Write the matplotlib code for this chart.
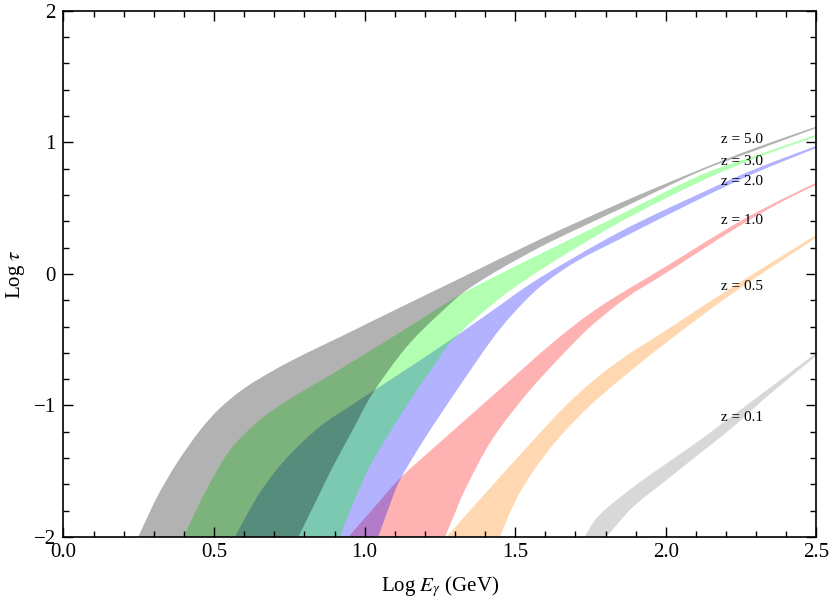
import matplotlib.pyplot as plt
from matplotlib.path import Path
from matplotlib.patches import PathPatch
from matplotlib.ticker import MultipleLocator

plt.rcParams['font.family'] = ['Liberation Serif', 'DejaVu Serif']
plt.rcParams['mathtext.fontset'] = 'stix'

# band edges (Log E, Log tau); "hi" = left/upper edge, "lo" = right/lower edge
z01_hi_x = [1.73, 1.781, 1.892, 2.003, 2.113, 2.224, 2.335, 2.52]
z01_hi_y = [-2.0, -1.83, -1.62, -1.44, -1.264, -1.074, -0.884, -0.565]
z01_lo_x = [1.803, 1.892, 2.003, 2.113, 2.224, 2.335, 2.52]
z01_lo_y = [-2.0, -1.77, -1.567, -1.365, -1.163, -0.935, -0.585]

z05_hi_x = [1.272, 1.40, 1.55, 1.66, 1.76, 1.87, 2.0, 2.224, 2.52]
z05_hi_y = [-2.0, -1.67, -1.29, -1.02, -0.81, -0.62, -0.43, -0.095, 0.325]
z05_lo_x = [1.449, 1.50, 1.56, 1.64, 1.74, 1.85, 2.003, 2.224, 2.52]
z05_lo_y = [-2.0, -1.73, -1.50, -1.26, -1.02, -0.80, -0.52, -0.145, 0.305]

z1_hi_x = [0.946, 1.03, 1.117, 1.258, 1.443, 1.626, 1.781, 2.003, 2.224, 2.379, 2.52]
z1_hi_y = [-2.0, -1.78, -1.555, -1.264, -0.89, -0.52, -0.25, 0.06, 0.37, 0.56, 0.715]
z1_lo_x = [1.267, 1.30, 1.333, 1.422, 1.549, 1.703, 1.781, 1.88, 2.003, 2.224, 2.379, 2.52]
z1_lo_y = [-2.0, -1.82, -1.643, -1.264, -0.884, -0.505, -0.34, -0.165, 0.01, 0.335, 0.54, 0.70]

z2_hi_x = [0.569, 0.65, 0.741, 0.852, 0.962, 1.029, 1.139, 1.283, 1.43, 1.582, 1.848, 2.113, 2.30, 2.52]
z2_hi_y = [-2.0, -1.67, -1.40, -1.16, -0.99, -0.89, -0.725, -0.505, -0.27, -0.03, 0.32, 0.61, 0.80, 0.99]
z2_lo_x = [1.045, 1.08, 1.117, 1.20, 1.30, 1.416, 1.49, 1.582, 1.70, 1.848, 2.113, 2.30, 2.52]
z2_lo_y = [-2.0, -1.78, -1.567, -1.25, -0.905, -0.52, -0.31, -0.10, 0.09, 0.265, 0.57, 0.77, 0.975]

z3_hi_x = [0.398, 0.475, 0.553, 0.652, 0.763, 0.907, 1.05, 1.184, 1.316, 1.45, 1.582, 1.848, 2.11, 2.30, 2.52]
z3_hi_y = [-2.0, -1.64, -1.34, -1.11, -0.935, -0.74, -0.54, -0.35, -0.16, 0.0, 0.15, 0.45, 0.745, 0.90, 1.075]
z3_lo_x = [0.918, 0.962, 1.018, 1.085, 1.16, 1.23, 1.294, 1.43, 1.582, 1.848, 2.113, 2.30, 2.52]
z3_lo_y = [-2.0, -1.744, -1.46, -1.20, -0.93, -0.70, -0.50, -0.22, 0.027, 0.393, 0.70, 0.88, 1.06]

z5_hi_x = [0.248, 0.31, 0.376, 0.453, 0.52, 0.60, 0.70, 0.80, 0.918, 1.10, 1.316, 1.58, 1.85, 2.11, 2.30, 2.52]
z5_hi_y = [-2.0, -1.70, -1.44, -1.19, -1.02, -0.87, -0.73, -0.61, -0.48, -0.275, -0.035, 0.26, 0.54, 0.79, 0.96, 1.135]
z5_lo_x = [0.78, 0.84, 0.896, 0.962, 1.029, 1.139, 1.25, 1.36, 1.58, 1.85, 2.11, 2.30, 2.52]
z5_lo_y = [-2.0, -1.72, -1.46, -1.18, -0.90, -0.556, -0.30, -0.09, 0.20, 0.495, 0.775, 0.94, 1.125]

labels = ["z = 0.1", "z = 0.5", "z = 1.0", "z = 2.0", "z = 3.0", "z = 5.0"]
label_y = [-1.094, -0.095, 0.404, 0.702, 0.854, 1.019]
label_x = 2.182

bands = [
    (z01_hi_x, z01_hi_y, z01_lo_x, z01_lo_y, (0.5, 0.5, 0.5)),
    (z05_hi_x, z05_hi_y, z05_lo_x, z05_lo_y, (1.0, 0.5, 0.0)),
    (z1_hi_x, z1_hi_y, z1_lo_x, z1_lo_y, (1.0, 0.0, 0.0)),
    (z2_hi_x, z2_hi_y, z2_lo_x, z2_lo_y, (0.0, 0.0, 1.0)),
    (z3_hi_x, z3_hi_y, z3_lo_x, z3_lo_y, (0.0, 1.0, 0.0)),
    (z5_hi_x, z5_hi_y, z5_lo_x, z5_lo_y, (0.0, 0.0, 0.0)),
]


def bezier_through(pts):
    # cubic bezier control points so the drawn edge runs smoothly through the read points
    n = len(pts)
    out = []
    for i in range(n - 1):
        p0 = pts[max(i - 1, 0)]
        p1 = pts[i]
        p2 = pts[i + 1]
        p3 = pts[min(i + 2, n - 1)]
        c1 = (p1[0] + (p2[0] - p0[0]) / 6, p1[1] + (p2[1] - p0[1]) / 6)
        c2 = (p2[0] - (p3[0] - p1[0]) / 6, p2[1] - (p3[1] - p1[1]) / 6)
        out += [c1, c2, p2]
    return out


def band_path(hx, hy, lx, ly):
    hi = list(zip(hx, hy))
    lo = list(zip(lx, ly))[::-1]
    verts = [hi[0]] + bezier_through(hi) + [lo[0]] + bezier_through(lo) + [hi[0]]
    codes = ([Path.MOVETO] + [Path.CURVE4] * (3 * (len(hi) - 1)) + [Path.LINETO]
             + [Path.CURVE4] * (3 * (len(lo) - 1)) + [Path.CLOSEPOLY])
    return Path(verts, codes)


fig = plt.figure(figsize=(8.3, 6.0), dpi=100)
ax = fig.add_axes([0.0765, 0.105, 0.907, 0.877])

for hx, hy, lx, ly, col in bands:
    patch = PathPatch(band_path(hx, hy, lx, ly), facecolor=col, alpha=0.3, lw=0)
    ax.add_patch(patch)

for txt, yy in zip(labels, label_y):
    ax.text(label_x, yy, txt, fontsize=11, va='center', ha='left')

ax.set_xlim(0, 2.5)
ax.set_ylim(-2, 2)
ax.xaxis.set_major_locator(MultipleLocator(0.5))
ax.xaxis.set_minor_locator(MultipleLocator(0.1))
ax.yaxis.set_major_locator(MultipleLocator(1))
ax.yaxis.set_minor_locator(MultipleLocator(0.2))
ax.set_xticks([0, 0.5, 1.0, 1.5, 2.0, 2.5])
ax.set_xticklabels(["0.0", "0.5", "1.0", "1.5", "2.0", "2.5"])
ax.tick_params(which='both', direction='in', top=True, right=True, labelsize=15, width=1.0)
ax.tick_params(axis='x', pad=4)
ax.tick_params(axis='y', pad=5.5)
ax.tick_params(which='major', length=7)
ax.tick_params(which='minor', length=4)
for s in ax.spines.values():
    s.set_linewidth(1.2)

ax.set_xlabel(r"Log $E_{\gamma}$ (GeV)", fontsize=15)
ax.set_ylabel(r"Log $\tau$", fontsize=15)
ax.xaxis.set_label_coords(0.5, -0.07)
ax.yaxis.set_label_coords(-0.048, 0.5)

fig.savefig("out.png", dpi=100)
